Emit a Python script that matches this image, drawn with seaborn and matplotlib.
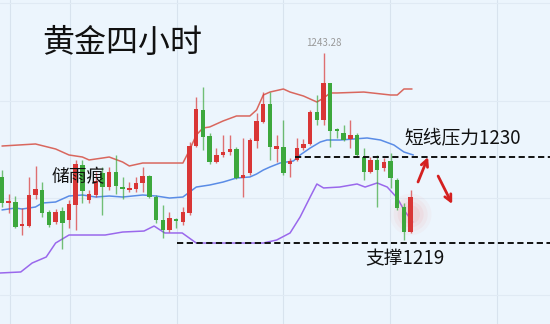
import numpy as np
import pandas as pd
import matplotlib
matplotlib.use("Agg")
import matplotlib.pyplot as plt
import seaborn as sns

# ---------------- data ----------------
opens = [1227.44, 1224.10, 1224.23, 1221.15, 1221.15, 1225.13, 1225.77, 1222.95, 1221.67, 1223.08,
         1221.92, 1223.85, 1228.97, 1224.49, 1225.13, 1227.95, 1226.15, 1228.08, 1226.03, 1225.77,
         1225.90, 1226.67, 1227.56, 1224.87, 1221.92, 1220.64, 1222.05, 1221.67, 1222.82, 1231.41,
         1236.03, 1232.69, 1229.36, 1230.26, 1230.64, 1231.03, 1227.31, 1227.95, 1232.05, 1234.49,
         1236.79, 1231.03, 1231.28, 1229.10, 1229.62, 1231.15, 1231.67, 1235.77, 1234.74, 1239.49,
         1233.46, 1233.08, 1232.31, 1232.82, 1230.00, 1228.08, 1229.62, 1228.59, 1229.49, 1227.05,
         1223.59, 1220.38]
closes = [1224.10, 1224.36, 1221.03, 1221.41, 1225.13, 1225.90, 1222.82, 1221.28, 1222.95, 1221.54,
          1223.97, 1229.10, 1225.64, 1225.26, 1226.92, 1226.15, 1228.08, 1226.28, 1225.90, 1226.03,
          1226.67, 1227.56, 1224.87, 1221.92, 1220.64, 1222.18, 1221.79, 1222.95, 1231.41, 1236.15,
          1232.56, 1229.36, 1230.26, 1230.64, 1231.03, 1227.31, 1227.69, 1232.18, 1234.62, 1236.79,
          1231.28, 1231.41, 1227.95, 1229.49, 1231.15, 1231.67, 1235.77, 1234.74, 1239.49, 1233.33,
          1233.33, 1232.18, 1232.82, 1230.26, 1228.08, 1229.62, 1228.33, 1229.36, 1227.31, 1223.46,
          1220.38, 1224.87]
highs = [1228.33, 1225.26, 1225.00, 1223.46, 1227.44, 1228.85, 1226.79, 1223.21, 1223.33, 1223.59,
         1224.49, 1229.62, 1229.62, 1225.77, 1228.08, 1228.72, 1228.72, 1230.26, 1227.44, 1226.79,
         1227.44, 1228.72, 1227.69, 1225.13, 1223.85, 1222.95, 1222.18, 1223.59, 1231.92, 1237.69,
         1238.97, 1233.08, 1231.15, 1232.82, 1232.82, 1231.28, 1232.44, 1232.44, 1235.64, 1238.33,
         1238.33, 1232.82, 1234.74, 1229.87, 1232.44, 1232.31, 1236.03, 1237.95, 1243.28, 1239.49,
         1233.72, 1234.10, 1234.74, 1233.08, 1231.15, 1230.00, 1230.26, 1229.87, 1230.51, 1227.31,
         1224.10, 1225.77]
lows = [1223.59, 1222.82, 1220.90, 1220.00, 1221.03, 1224.62, 1222.31, 1221.03, 1221.41, 1218.21,
        1220.90, 1220.64, 1224.10, 1224.10, 1224.87, 1222.56, 1225.77, 1225.26, 1224.62, 1225.51,
        1225.51, 1225.51, 1224.74, 1221.54, 1219.62, 1220.38, 1220.90, 1221.28, 1222.56, 1231.28,
        1230.90, 1229.10, 1229.23, 1230.00, 1230.26, 1227.18, 1224.87, 1227.69, 1231.15, 1234.36,
        1229.62, 1229.36, 1227.69, 1227.44, 1229.49, 1230.90, 1231.54, 1234.10, 1234.10, 1231.28,
        1232.44, 1232.05, 1231.15, 1230.00, 1227.05, 1227.95, 1223.59, 1228.21, 1226.03, 1223.21,
        1219.36, 1220.26]

upper_idx = [0, 5, 8, 10, 12, 13, 15, 16, 18, 19, 21, 24, 27, 28, 29, 30, 31, 33, 35, 37,
             38, 39, 40, 42, 43, 45, 47, 48, 49, 50, 54, 58, 59, 60, 61.2]
upper_val = [1231.41, 1231.67, 1231.03, 1230.26, 1230.00, 1229.62, 1229.87, 1230.00, 1229.36, 1228.85,
             1229.23, 1229.23, 1229.23, 1230.90, 1232.82, 1233.72, 1233.85, 1234.62, 1235.26, 1235.26,
             1236.03, 1237.95, 1238.33, 1238.72, 1238.33, 1237.82, 1237.05, 1237.56, 1238.21, 1238.21,
             1238.33, 1237.95, 1237.95, 1238.72, 1238.72]

mid_idx = [0, 2, 3, 5, 6, 8, 10, 12, 14, 16, 18, 21, 23, 25, 27, 28, 29, 31, 33, 35,
           37, 38, 39, 40, 41.5, 43.5, 44.5, 46, 47.5, 48.5, 50.5, 52.5, 54.5, 56.5, 58.5, 60, 61.4]
mid_val = [1223.21, 1223.46, 1223.33, 1223.59, 1224.10, 1224.23, 1225.00, 1225.13, 1224.87, 1225.00,
           1224.87, 1225.13, 1225.00, 1224.74, 1224.87, 1225.51, 1226.15, 1226.41, 1226.79, 1227.31,
           1227.44, 1227.82, 1228.33, 1228.72, 1229.23, 1229.49, 1230.26, 1231.15, 1231.92, 1232.18,
           1232.18, 1232.31, 1232.44, 1232.18, 1231.54, 1230.64, 1230.26]

lower_idx = [-0.3, 2.8, 4.5, 6.6, 8, 10, 15.4, 18, 21.2, 22.7, 24.3, 26.9, 29, 39, 41, 43,
             44.5, 46, 47, 48, 50.4, 53, 54.2, 56, 57.5, 59, 60, 61.3]
lower_val = [1215.13, 1215.26, 1216.41, 1217.18, 1218.97, 1220.00, 1220.00, 1220.38, 1220.51, 1221.15,
             1220.26, 1220.26, 1218.97, 1218.97, 1219.36, 1220.26, 1222.31, 1224.87, 1226.54, 1226.03,
             1226.15, 1226.54, 1226.15, 1226.67, 1226.15, 1224.74, 1223.21, 1221.67]

resistance = 1230
support = 1219
peak_label = "1243.28"

# ---------------- style ----------------
sns.set_theme(style="white")
plt.rcParams['font.family'] = ['Noto Sans CJK SC', 'DejaVu Sans']

BG = '#ECF5FD'
RED = '#D93636'
GREEN = '#3DA83D'

fig = plt.figure(figsize=(5.5, 3.24), dpi=100)
fig.patch.set_facecolor(BG)
ax = fig.add_axes([0, 0, 1, 1])
ax.set_facecolor(BG)
ax.set_xlim(-0.3, 81.8)
ax.set_ylim(1208.59, 1250.13)
ax.axis('off')

# faint grid
for gx in [1.19, 10.15, 26.1, 41.9, 57.9, 73.9]:
    ax.axvline(gx, color='#D8E3EE', lw=0.8, zorder=0)
for gy in [1249.74, 1237.2, 1224.7, 1212.3]:
    ax.axhline(gy, color='#E0EAF4', lw=0.8, zorder=0)

df = pd.DataFrame({'o': opens, 'c': closes, 'h': highs, 'l': lows})
df['i'] = np.arange(len(df))
df['up'] = df['c'] >= df['o']

# bands
sns.lineplot(x=upper_idx, y=upper_val, ax=ax, color='#D9675E', lw=1.1, zorder=1, sort=False, estimator=None)
sns.lineplot(x=mid_idx, y=mid_val, ax=ax, color='#5A8CE6', lw=1.1, zorder=1, sort=False, estimator=None)
sns.lineplot(x=lower_idx, y=lower_val, ax=ax, color='#9A68EC', lw=1.1, zorder=1, sort=False, estimator=None)

# glow on last candle
last = df.iloc[-1]
for s, a in [(900, 0.05), (600, 0.07), (350, 0.09), (180, 0.1)]:
    ax.scatter([last['i']], [(last['o'] + last['c']) / 2], s=s, color='#F08080', alpha=a,
               edgecolors='none', zorder=1.5)

# candles
colors = np.where(df['up'], RED, GREEN)
ax.vlines(df['i'], df['l'], df['h'], colors=colors, lw=1.0, alpha=0.7, zorder=2)
body = np.maximum((df['c'] - df['o']).abs(), 0.2)
bottom = np.minimum(df['o'], df['c'])
ax.bar(df['i'], body, bottom=bottom, width=0.66, color=colors, edgecolor='none', zorder=3)

# support / resistance
ax.hlines(resistance, 43.7, 81.8, colors='#111111', lw=1.4, linestyles=(0, (3.2, 1.8)), zorder=4)
ax.hlines(support, 26.1, 81.8, colors='#111111', lw=1.4, linestyles=(0, (3.2, 1.8)), zorder=4)

# texts
ax.text(6.0, 1244.6, "黄金四小时", fontsize=23, color='#111111', ha='left', va='center')
ax.text(7.4, 1227.4, "储雨痕", fontsize=12.8, color='#111111', ha='left', va='center')
ax.text(60.1, 1232.3, "短线压力1230", fontsize=13.5, color='#111111', ha='left', va='center')
ax.text(54.2, 1217.0, "支撑1219", fontsize=13.5, color='#111111', ha='left', va='center')
ax.text(48, 1243.28 + 0.75, peak_label, fontsize=7, color='#9A9A9A', ha='center', va='bottom')

# arrows
arrow_kw = dict(arrowstyle='->', color='#D42020', lw=2.0, mutation_scale=12, shrinkA=0, shrinkB=0)
ax.annotate('', xy=(63.6, 1230.0), xytext=(62.1, 1226.8), arrowprops=arrow_kw, zorder=5)
ax.annotate('', xy=(67.2, 1223.97), xytext=(65.1, 1227.56), arrowprops=arrow_kw, zorder=5)

fig.savefig('out.png', dpi=100, facecolor=BG)
